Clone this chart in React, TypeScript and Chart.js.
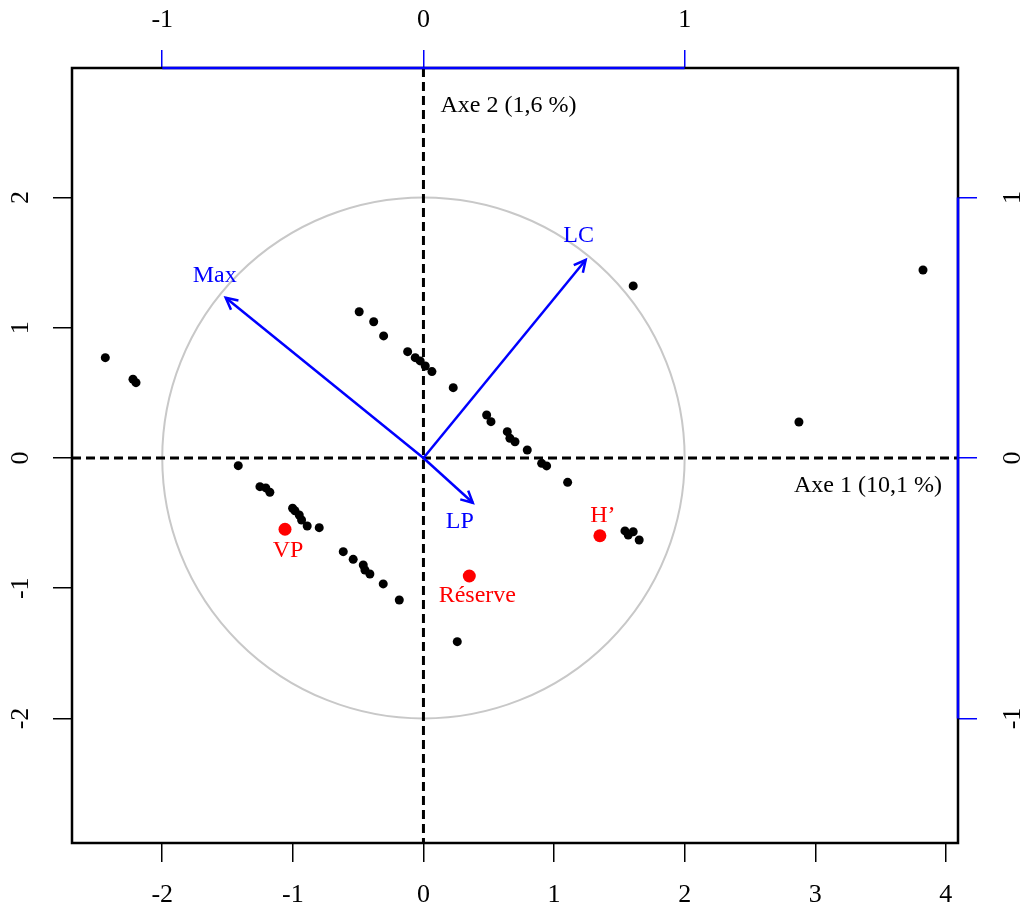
import React, { useEffect, useRef } from "react";
import { Chart, registerables } from "chart.js";

Chart.register(...registerables);

// ---- data ----
const indX = [
  -2.436, -2.224, -2.201, -0.492, -0.381, -0.305, -0.121, -0.063, -0.025, 0.014,
  0.065, 0.228, 0.484, 0.517, 0.642, 0.662, 0.701, 0.795, 0.905, 0.943,
  1.104, 1.606, 3.825, 2.875,
  -1.418, -1.252, -1.207, -1.176, -1.002, -0.984, -0.951, -0.933, -0.89, -0.798,
  -0.614, -0.538, -0.461, -0.448, -0.41, -0.308, -0.185, 0.259,
  1.543, 1.568, 1.606, 1.652,
];
const indY = [
  0.77, 0.604, 0.578, 1.123, 1.046, 0.937, 0.816, 0.77, 0.745, 0.706,
  0.663, 0.54, 0.33, 0.279, 0.202, 0.151, 0.125, 0.061, -0.041, -0.061,
  -0.187, 1.321, 1.443, 0.276,
  -0.059, -0.22, -0.23, -0.263, -0.386, -0.405, -0.438, -0.476, -0.522, -0.535,
  -0.719, -0.778, -0.822, -0.86, -0.891, -0.967, -1.09, -1.41,
  -0.56, -0.591, -0.566, -0.63,
];

const supLabels = ["VP", "Réserve", "H’"];
const supX = [-1.06, 0.351, 1.351];
const supY = [-0.547, -0.906, -0.597];

const varLabels = ["Max", "LC", "LP"];
const varX = [-0.757, 0.621, 0.189];
const varY = [0.615, 0.76, -0.172];

const xTicks = [-2, -1, 0, 1, 2, 3, 4];
const yTicks = [-2, -1, 0, 1, 2];
const x2Ticks = [-1, 0, 1];
const y2Ticks = [-1, 0, 1];

const axis1Title = "Axe 1 (10,1 %)";
const axis2Title = "Axe 2 (1,6 %)";

const xMin = -2.691;
const xMax = 4.093;
const yMin = -2.956;
const yMax = 2.994;

// ---- styles ----
const FONT = '"Liberation Serif", "Times New Roman", serif';
const FS = 24;
const TFS = 26;
const BLUE = "#0000ff";
const RED = "#ff0000";
const supLabelOffsets = [
  [3, 21],
  [8, 20],
  [3, -20],
];
const varLabelOffsets = [
  [-11, -22],
  [-7, -24],
  [-13, 19],
];

const setTicks = (vals: number[]) => (s: any) => {
  s.ticks = vals.map((v) => ({ value: v }));
};

const biplotPlugin = {
  id: "biplot",
  beforeDatasetsDraw(chart: any) {
    const { ctx, chartArea: a, scales } = chart;
    const { x, y, x2, y2 } = scales;
    ctx.save();
    const cx = x2.getPixelForValue(0);
    const cy = y2.getPixelForValue(0);
    const rx = x2.getPixelForValue(1) - cx;
    const ry = cy - y2.getPixelForValue(1);
    ctx.strokeStyle = "#c8c8c8";
    ctx.lineWidth = 2;
    ctx.beginPath();
    ctx.ellipse(cx, cy, rx, ry, 0, 0, Math.PI * 2);
    ctx.stroke();

    const x0 = x.getPixelForValue(0);
    const y0 = y.getPixelForValue(0);
    ctx.strokeStyle = "#000";
    ctx.lineWidth = 3;
    ctx.setLineDash([9, 5]);
    ctx.beginPath();
    ctx.moveTo(x0, a.top);
    ctx.lineTo(x0, a.bottom);
    ctx.moveTo(a.left, y0);
    ctx.lineTo(a.right, y0);
    ctx.stroke();
    ctx.restore();
  },
  afterDatasetsDraw(chart: any) {
    const { ctx, chartArea: a, scales } = chart;
    const { x, y } = scales;
    ctx.save();
    // arrowheads
    chart.data.datasets.forEach((ds: any, i: number) => {
      if (!ds.isArrow) return;
      const pts = chart.getDatasetMeta(i).data;
      const p0 = pts[0];
      const p1 = pts[1];
      const ang = Math.atan2(p1.y - p0.y, p1.x - p0.x);
      const L = 13;
      const h = (27 * Math.PI) / 180;
      ctx.strokeStyle = BLUE;
      ctx.lineWidth = 2.5;
      ctx.beginPath();
      ctx.moveTo(p1.x - L * Math.cos(ang - h), p1.y - L * Math.sin(ang - h));
      ctx.lineTo(p1.x, p1.y);
      ctx.lineTo(p1.x - L * Math.cos(ang + h), p1.y - L * Math.sin(ang + h));
      ctx.stroke();
      ctx.font = `${FS}px ${FONT}`;
      ctx.fillStyle = BLUE;
      ctx.textAlign = "center";
      ctx.textBaseline = "middle";
      const o = varLabelOffsets[ds.varIndex];
      ctx.fillText(varLabels[ds.varIndex], p1.x + o[0], p1.y + o[1]);
    });
    // supplementary labels
    chart.data.datasets.forEach((ds: any, i: number) => {
      if (!ds.isSup) return;
      const pts = chart.getDatasetMeta(i).data;
      ctx.font = `${FS}px ${FONT}`;
      ctx.fillStyle = RED;
      ctx.textAlign = "center";
      ctx.textBaseline = "middle";
      pts.forEach((p: any, j: number) => {
        const o = supLabelOffsets[j];
        ctx.fillText(supLabels[j], p.x + o[0], p.y + o[1]);
      });
    });
    // axis titles
    const x0 = x.getPixelForValue(0);
    const y0 = y.getPixelForValue(0);
    ctx.fillStyle = "#000";
    ctx.font = `${FS}px ${FONT}`;
    ctx.textBaseline = "middle";
    ctx.textAlign = "left";
    ctx.fillText(axis2Title, x0 + 17, a.top + 38);
    ctx.textAlign = "right";
    ctx.fillText(axis1Title, a.right - 16, y0 + 28);
    ctx.restore();
  },
  afterDraw(chart: any) {
    const { ctx, chartArea: a, scales } = chart;
    const { x2, y2 } = scales;
    ctx.save();
    ctx.strokeStyle = "#000";
    ctx.lineWidth = 2.5;
    ctx.strokeRect(a.left, a.top, a.right - a.left, a.bottom - a.top);
    ctx.strokeStyle = BLUE;
    ctx.lineWidth = 2.5;
    ctx.beginPath();
    ctx.moveTo(x2.getPixelForValue(x2Ticks[0]), a.top);
    ctx.lineTo(x2.getPixelForValue(x2Ticks[x2Ticks.length - 1]), a.top);
    ctx.moveTo(a.right, y2.getPixelForValue(y2Ticks[0]));
    ctx.lineTo(a.right, y2.getPixelForValue(y2Ticks[y2Ticks.length - 1]));
    ctx.stroke();
    ctx.restore();
  },
};

export default function App() {
  const ref = useRef<HTMLCanvasElement | null>(null);
  useEffect(() => {
    if (!ref.current) return;
    const tickFont = { family: FONT, size: TFS };
    const arrowSets = varLabels.map((_, i) => ({
      label: varLabels[i],
      data: [
        { x: 0, y: 0 },
        { x: varX[i], y: varY[i] },
      ],
      xAxisID: "x2",
      yAxisID: "y2",
      showLine: true,
      borderColor: BLUE,
      borderWidth: 2.5,
      pointRadius: 0,
      isArrow: true,
      varIndex: i,
      order: 3,
    }));
    const chart = new Chart(ref.current, {
      type: "scatter",
      data: {
        datasets: [
          {
            label: "individus",
            data: indX.map((v, i) => ({ x: v, y: indY[i] })),
            backgroundColor: "#000",
            borderColor: "#000",
            pointRadius: 4.5,
            borderWidth: 0,
            xAxisID: "x",
            yAxisID: "y",
            order: 2,
          },
          {
            label: "sup",
            data: supX.map((v, i) => ({ x: v, y: supY[i] })),
            backgroundColor: RED,
            borderColor: RED,
            pointRadius: 6.5,
            borderWidth: 0,
            xAxisID: "x",
            yAxisID: "y",
            isSup: true,
            order: 1,
          } as any,
          ...(arrowSets as any[]),
        ],
      },
      options: {
        animation: false,
        responsive: false,
        maintainAspectRatio: false,
        layout: { padding: 0 },
        plugins: { legend: { display: false }, tooltip: { enabled: false } },
        events: [],
        scales: {
          x: {
            type: "linear",
            position: "bottom",
            min: xMin,
            max: xMax,
            bounds: "data",
            afterBuildTicks: setTicks(xTicks),
            afterFit: (s: any) => {
              s.height = 74;
            },
            grid: { drawOnChartArea: false, tickLength: 19, color: "#000", lineWidth: 1.5 },
            border: { display: false },
            ticks: { font: tickFont, color: "#000", padding: 18, autoSkip: false, maxRotation: 0, minRotation: 0 },
          },
          y: {
            type: "linear",
            position: "left",
            min: yMin,
            max: yMax,
            bounds: "data",
            afterBuildTicks: setTicks(yTicks),
            afterFit: (s: any) => {
              s.width = 72;
            },
            grid: { drawOnChartArea: false, tickLength: 19, color: "#000", lineWidth: 1.5 },
            border: { display: false },
            ticks: { font: tickFont, color: "#000", padding: 21, autoSkip: false, minRotation: 90, maxRotation: 90, crossAlign: "center" },
          },
          x2: {
            type: "linear",
            position: "top",
            min: xMin / 2,
            max: xMax / 2,
            bounds: "data",
            afterBuildTicks: setTicks(x2Ticks),
            afterFit: (s: any) => {
              s.height = 68;
            },
            grid: { drawOnChartArea: false, tickLength: 18, color: BLUE, lineWidth: 1.5 },
            border: { display: false },
            ticks: { font: tickFont, color: "#000", padding: 14, autoSkip: false, maxRotation: 0, minRotation: 0 },
          },
          y2: {
            type: "linear",
            position: "right",
            min: yMin / 2,
            max: yMax / 2,
            bounds: "data",
            afterBuildTicks: setTicks(y2Ticks),
            afterFit: (s: any) => {
              s.width = 63;
            },
            grid: { drawOnChartArea: false, tickLength: 19, color: BLUE, lineWidth: 1.5 },
            border: { display: false },
            ticks: { font: tickFont, color: "#000", padding: 25, autoSkip: false, minRotation: 90, maxRotation: 90, crossAlign: "center" },
          },
        },
      } as any,
      plugins: [biplotPlugin as any],
    });
    return () => chart.destroy();
  }, []);
  return (
    <div style={{ position: "fixed", left: 0, top: 0, width: 1021, height: 917, background: "#fff" }}>
      <canvas ref={ref} width={1021} height={917} style={{ display: "block", width: 1021, height: 917 }} />
    </div>
  );
}
